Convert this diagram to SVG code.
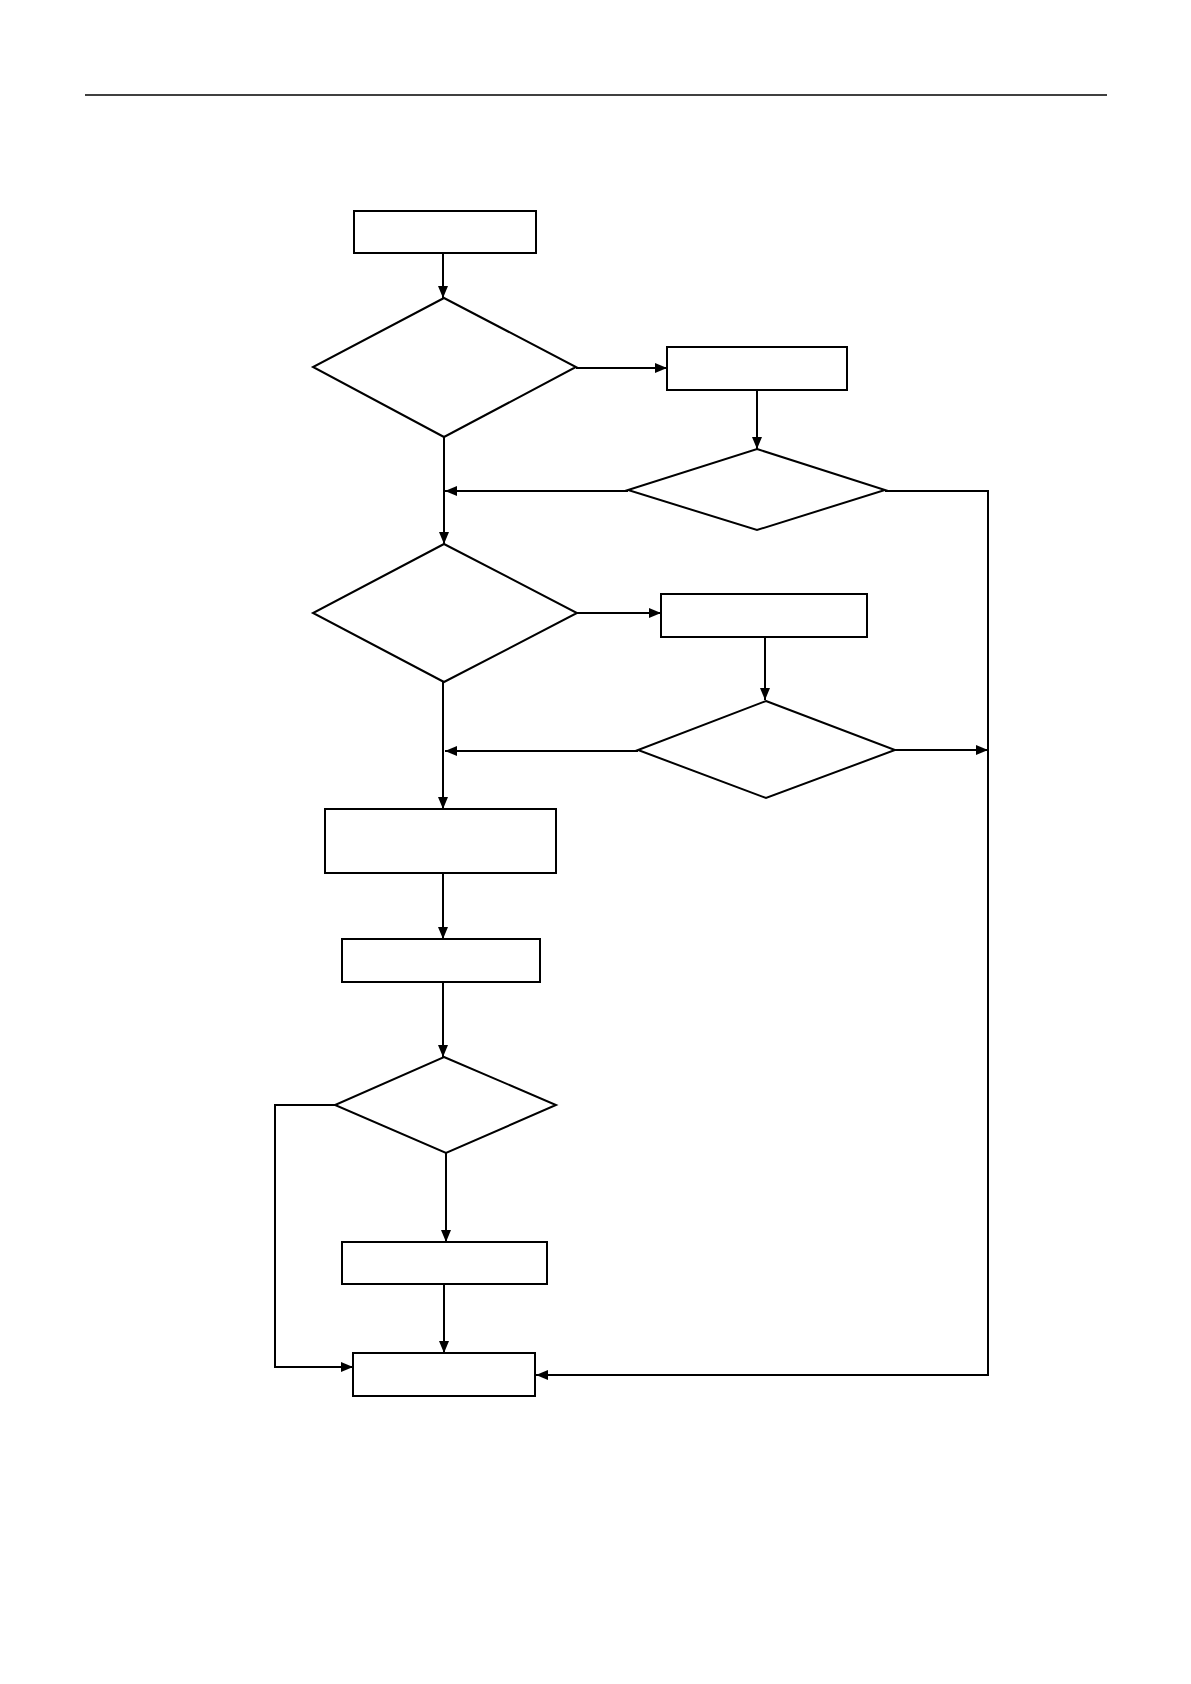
<svg xmlns="http://www.w3.org/2000/svg" width="1191" height="1684" viewBox="0 0 1191 1684">
<style>
.n{fill:#fff;stroke:#000;stroke-width:2}
.c{fill:none;stroke:#000;stroke-width:2}
</style>
<defs>
<marker id="ah" markerUnits="userSpaceOnUse" markerWidth="12" markerHeight="12" viewBox="0 0 12 12" refX="12" refY="6" orient="auto">
<path d="M0,1 L12,6 L0,11 Z" fill="#000"/>
</marker>
</defs>
<rect width="1191" height="1684" fill="#fff"/>
<line x1="85" y1="95" x2="1107" y2="95" stroke="#000" stroke-width="1.5"/>
<g id="connectors">
<path class="c" d="M443,253 V298" marker-end="url(#ah)"/>
<path class="c" d="M576,368 H667" marker-end="url(#ah)"/>
<path class="c" d="M757,390 V449" marker-end="url(#ah)"/>
<path class="c" d="M444,437 V544" marker-end="url(#ah)"/>
<path class="c" d="M628,491 H445" marker-end="url(#ah)"/>
<path class="c" d="M885,491 H988 V1375 H536" marker-end="url(#ah)"/>
<path class="c" d="M577,613 H661" marker-end="url(#ah)"/>
<path class="c" d="M765,637 V700" marker-end="url(#ah)"/>
<path class="c" d="M443,682 V809" marker-end="url(#ah)"/>
<path class="c" d="M638,751 H445" marker-end="url(#ah)"/>
<path class="c" d="M895,750 H988" marker-end="url(#ah)"/>
<path class="c" d="M443,873 V939" marker-end="url(#ah)"/>
<path class="c" d="M443,982 V1057" marker-end="url(#ah)"/>
<path class="c" d="M335,1105 H275 V1367 H353" marker-end="url(#ah)"/>
<path class="c" d="M446,1153 V1242" marker-end="url(#ah)"/>
<path class="c" d="M444,1284 V1353" marker-end="url(#ah)"/>
</g>
<g id="n1"><rect class="n" x="354" y="211" width="182" height="42"/></g>
<g id="d1"><polygon class="n" points="444,298 576,367 444,437 313,367"/></g>
<g id="n2"><rect class="n" x="667" y="347" width="180" height="43"/></g>
<g id="d2"><polygon class="n" points="757,449 885,490 757,530 628,490"/></g>
<g id="d3"><polygon class="n" points="444,544 577,613 444,682 313,613"/></g>
<g id="n3"><rect class="n" x="661" y="594" width="206" height="43"/></g>
<g id="d4"><polygon class="n" points="766,701 895,750 766,798 638,750"/></g>
<g id="n4"><rect class="n" x="325" y="809" width="231" height="64"/></g>
<g id="n5"><rect class="n" x="342" y="939" width="198" height="43"/></g>
<g id="d5"><polygon class="n" points="444,1057 556,1105 446,1153 335,1105"/></g>
<g id="n6"><rect class="n" x="342" y="1242" width="205" height="42"/></g>
<g id="n7"><rect class="n" x="353" y="1353" width="182" height="43"/></g>
</svg>
